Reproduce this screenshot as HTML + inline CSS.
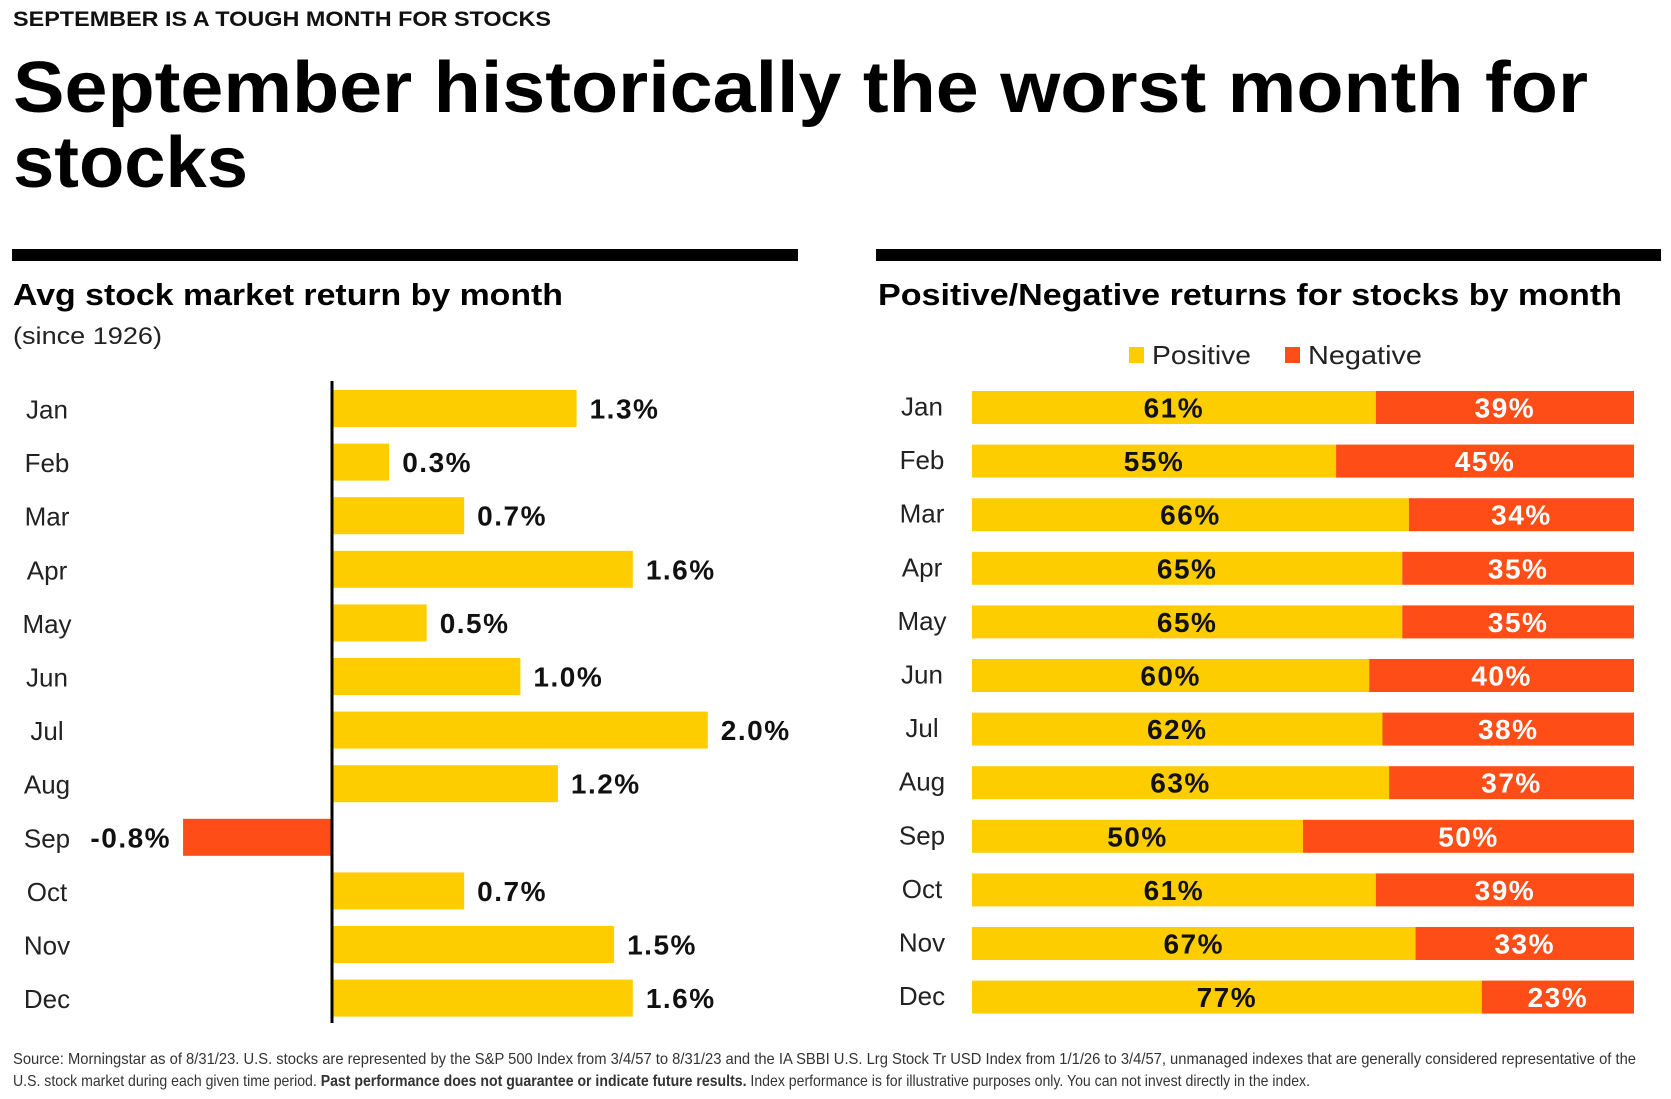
<!DOCTYPE html>
<html><head><meta charset="utf-8"><style>
html,body{margin:0;padding:0;background:#fff;}
svg{display:block;font-family:"Liberation Sans",sans-serif;}
</style></head><body>
<svg id="chart" width="1671" height="1099" viewBox="0 0 1671 1099" xmlns="http://www.w3.org/2000/svg">
<text x="13" y="26" font-size="21" font-weight="bold" fill="#111" textLength="538" lengthAdjust="spacingAndGlyphs">SEPTEMBER IS A TOUGH MONTH FOR STOCKS</text>
<text x="13" y="112" font-size="72" font-weight="bold" fill="#000" textLength="1575" lengthAdjust="spacingAndGlyphs">September historically the worst month for</text>
<text x="13" y="187" font-size="72" font-weight="bold" fill="#000" textLength="235" lengthAdjust="spacingAndGlyphs">stocks</text>
<rect x="12" y="249" width="786" height="12" fill="#000"/>
<rect x="876" y="249" width="785" height="12" fill="#000"/>
<text x="13" y="305" font-size="31" font-weight="bold" fill="#000" textLength="550" lengthAdjust="spacingAndGlyphs">Avg stock market return by month</text>
<text x="13" y="344" font-size="24" fill="#222" textLength="149" lengthAdjust="spacingAndGlyphs">(since 1926)</text>
<text x="878" y="305" font-size="31" font-weight="bold" fill="#000" textLength="744" lengthAdjust="spacingAndGlyphs">Positive/Negative returns for stocks by month</text>
<rect x="1129" y="347" width="15" height="16" fill="#FDCD00"/>
<text x="1152" y="364" font-size="26" fill="#222" textLength="99" lengthAdjust="spacingAndGlyphs">Positive</text>
<rect x="1285" y="347" width="15" height="16" fill="#FE4D16"/>
<text x="1308" y="364" font-size="26" fill="#222" textLength="114" lengthAdjust="spacingAndGlyphs">Negative</text>
<g id="left"></g>
<g id="right"></g>
<line x1="332" y1="381" x2="332" y2="1023" stroke="#000" stroke-width="3"/>
<text x="13" y="1064" font-size="16" fill="#333" textLength="1623" lengthAdjust="spacingAndGlyphs">Source: Morningstar as of 8/31/23. U.S. stocks are represented by the S&amp;P 500 Index from 3/4/57 to 8/31/23 and the IA SBBI U.S. Lrg Stock Tr USD Index from 1/1/26 to 3/4/57, unmanaged indexes that are generally considered representative of the</text>
<text x="13" y="1086" font-size="16" fill="#333" textLength="1297" lengthAdjust="spacingAndGlyphs">U.S. stock market during each given time period. <tspan font-weight="bold">Past performance does not guarantee or indicate future results.</tspan>  Index performance is for illustrative purposes only. You can not invest directly in the index.</text>
</svg>
<script>
const months = ["Jan","Feb","Mar","Apr","May","Jun","Jul","Aug","Sep","Oct","Nov","Dec"];
const avgReturns = [1.3,0.3,0.7,1.6,0.5,1.0,2.0,1.2,-0.8,0.7,1.5,1.6];
const positivePct = [61,55,66,65,65,60,62,63,50,61,67,77];
const negativePct = [39,45,34,35,35,40,38,37,50,39,33,23];

const NS = "http://www.w3.org/2000/svg";
function mk(tag, attrs, parent, text){
  const e = document.createElementNS(NS, tag);
  for (const k in attrs) e.setAttribute(k, attrs[k]);
  if (text !== undefined) e.textContent = text;
  parent.appendChild(e);
  return e;
}
const rowY = i => 390 + i * 53.6;
const zeroX = 333, perPct = 187.4;
const xL = v => zeroX + v * perPct;
const rx0 = 972, rW = 662;
const xR = p => rx0 + p / 100 * rW;

const L = document.getElementById('left');
const R = document.getElementById('right');
months.forEach((m, i) => {
  const y = rowY(i), h = 37, cy = y + h / 2 + 10;
  const v = avgReturns[i];
  const lbl = mk('text', {x: 47, y: cy, 'font-size': 26, 'text-anchor': 'middle', fill: '#222'}, L, m);
  
  
  const x0 = Math.min(xL(0), xL(v)), w = Math.abs(xL(v) - xL(0));
  const bar = mk('rect', {x: x0, y: y, width: w, height: h, fill: v < 0 ? '#FE4D16' : '#FDCD00'}, L);
  
  
  const vt = mk('text', {x: v < 0 ? x0 - 12 : x0 + w + 13, y: cy, 'font-size': 28, 'font-weight': 'bold', fill: '#111', 'text-anchor': v < 0 ? 'end' : 'start', 'letter-spacing': 1.5}, L, v.toFixed(1) + '%');
  
  

  const ry = y + 1, rh = 33, rcy = ry + rh / 2 + 10;
  const ml = mk('text', {x: 922, y: rcy - 2, 'font-size': 26, 'text-anchor': 'middle', fill: '#222'}, R, m);
  
  
  const p = positivePct[i], n = negativePct[i];
  const pb = mk('rect', {x: xR(0), y: ry, width: xR(p) - xR(0), height: rh, fill: '#FDCD00'}, R);
  
  
  const nb = mk('rect', {x: xR(p), y: ry, width: xR(p + n) - xR(p), height: rh, fill: '#FE4D16'}, R);
  
  
  const pt = mk('text', {x: (xR(0) + xR(p)) / 2, y: rcy, 'font-size': 28, 'font-weight': 'bold', 'text-anchor': 'middle', fill: '#111', 'letter-spacing': 1.5}, R, p + '%');
  
  
  const nt = mk('text', {x: (xR(p) + xR(p + n)) / 2, y: rcy, 'font-size': 28, 'font-weight': 'bold', 'text-anchor': 'middle', fill: '#fff', 'letter-spacing': 1.5}, R, n + '%');
  
  
});
</script>
</body></html>
